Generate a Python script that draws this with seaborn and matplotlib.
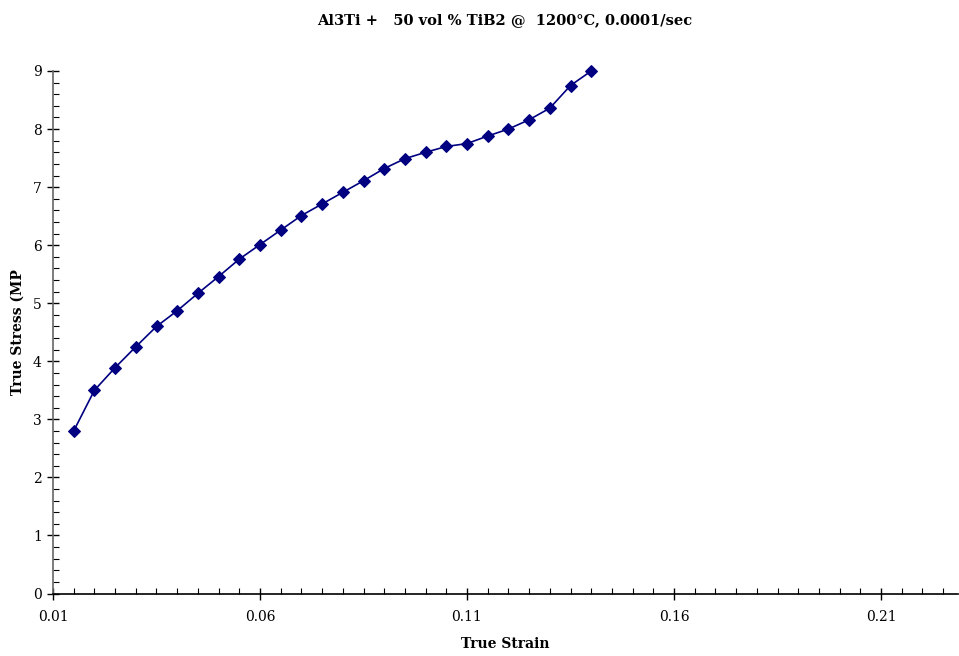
import matplotlib
matplotlib.use("Agg")
import matplotlib.pyplot as plt
from matplotlib.ticker import MultipleLocator
import seaborn as sns
import pandas as pd

# Strain / stress readings
true_strain = [0.015, 0.020, 0.025, 0.030, 0.035, 0.040, 0.045, 0.050, 0.055,
               0.060, 0.065, 0.070, 0.075, 0.080, 0.085, 0.090, 0.095, 0.100,
               0.105, 0.110, 0.115, 0.120, 0.125, 0.130, 0.135, 0.140]
true_stress = [2.80, 3.50, 3.89, 4.25, 4.60, 4.87, 5.17, 5.46, 5.76,
               6.01, 6.26, 6.51, 6.71, 6.91, 7.11, 7.32, 7.49, 7.60,
               7.70, 7.75, 7.88, 8.00, 8.16, 8.36, 8.75, 9.00]
x_ticks = [0.01, 0.06, 0.11, 0.16, 0.21]
x_tick_labels = ["0.01", "0.06", "0.11", "0.16", "0.21"]
y_ticks = [0, 1, 2, 3, 4, 5, 6, 7, 8, 9]

df = pd.DataFrame({"strain": true_strain, "stress": true_stress})

sns.set_style("ticks")
plt.rcParams["font.family"] = ["DejaVu Serif"]
plt.rcParams["text.color"] = "black"
plt.rcParams["axes.labelcolor"] = "black"
plt.rcParams["xtick.color"] = "black"
plt.rcParams["ytick.color"] = "black"

fig = plt.figure(figsize=(9.59, 6.56), dpi=100)
ax = fig.add_axes([53 / 959, 1 - 593.5 / 656, (958 - 53) / 959, (593.5 - 71) / 656])

sns.lineplot(data=df, x="strain", y="stress", ax=ax, color="#000080",
             marker="D", markersize=6, markeredgecolor="#000080",
             linewidth=1.2, estimator=None, sort=False, clip_on=False)

ax.set_xlim(0.01, 0.01 + (958 - 53) / 4140)
ax.set_ylim(0, 9)
ax.set_xticks(x_ticks)
ax.set_xticklabels(x_tick_labels)
ax.set_yticks(y_ticks)
ax.xaxis.set_minor_locator(MultipleLocator(0.005))
ax.yaxis.set_minor_locator(MultipleLocator(0.2))

ax.tick_params(which="major", direction="inout", length=8, width=1, labelsize=10,
               color="black", labelcolor="black")
ax.tick_params(axis="x", which="major", pad=8)
ax.tick_params(axis="y", which="major", pad=4)
ax.tick_params(which="minor", direction="in", length=4, width=0.8, color="black")

for side in ["top", "right"]:
    ax.spines[side].set_visible(False)
ax.spines["left"].set_color("#666666")
ax.spines["bottom"].set_color("black")
ax.spines["left"].set_linewidth(1.2)
ax.spines["bottom"].set_linewidth(1.2)

ax.set_xlabel("True Strain", fontsize=10, fontweight="bold")
ax.xaxis.set_label_coords(0.5, -(644 - 593.5) / (593.5 - 71), transform=ax.transAxes)
ax.xaxis.label.set_va("center")
ax.set_ylabel("True Stress (MP", fontsize=10, fontweight="bold")
ax.yaxis.set_label_coords(-(53 - 18) / (958 - 53), 0.5, transform=ax.transAxes)
ax.yaxis.label.set_va("center")
fig.suptitle("Al3Ti +   50 vol % TiB2 @  1200°C, 0.0001/sec", x=505 / 959, y=1 - 20 / 656,
             va="center", fontsize=10.5, fontweight="bold")

fig.savefig("out.png", dpi=100)
